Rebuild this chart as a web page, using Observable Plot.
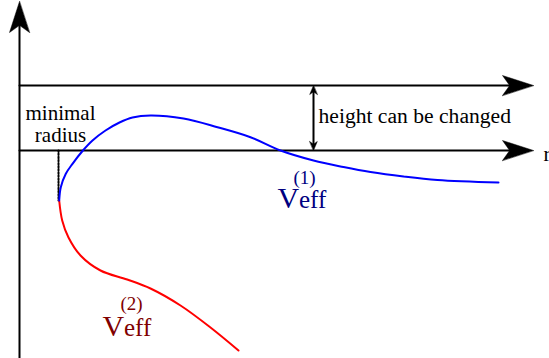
<!DOCTYPE html>
<html>
<head>
<meta charset="utf-8">
<script src="https://cdn.jsdelivr.net/npm/d3@7"></script>
<script src="https://cdn.jsdelivr.net/npm/@observablehq/plot@0.6"></script>
<style>
  html, body { margin: 0; padding: 0; background: #fff; }
  #chart svg { display: block; }
</style>
</head>
<body>
<div id="chart"></div>
<script>
// Effective potential sketch: r (horizontal) vs V (vertical)
const blueR = [39.7, 41.3, 46.3, 53, 63, 73, 86, 100, 113, 131, 164, 198, 231, 261, 294, 324, 351, 384, 418, 479];
const blueV = [-50, -36.7, -23.3, -13.3, -0.5, 10, 20, 28, 33, 35, 32, 23.3, 13.3, 0, -10, -16.5, -21.5, -26, -29.5, -32];
const redR = [39.7, 42.7, 49, 61, 81, 107.7, 131, 161, 191, 219];
const redV = [-50, -70, -87, -105, -120, -129, -138, -155, -177, -200];

const rMin = -19, rMax = 530;
const vMin = -208, vMax = 150;
const axisTipR = 514;      // end of horizontal axes
const axisTipV = 149;      // end of vertical axis
const shiftedLevel = 65;   // height of the shifted zero line
const minimalRadius = 39;
const minimalV = -50;
const heightArrowR = 294;

const labels = [
  {r: 41, v: 31, text: "minimal", anchor: "middle", size: 21, color: "#000"},
  {r: 41, v: 9, text: "radius", anchor: "middle", size: 21, color: "#000"},
  {r: 299, v: 28, text: "height can be changed", anchor: "start", size: 21.6, color: "#000"},
  {r: 524, v: -10, text: "r", anchor: "start", size: 21, color: "#000"},
  {r: 258, v: -57, text: "V", anchor: "start", size: 30, color: "#000080"},
  {r: 279.5, v: -57, text: "eff", anchor: "start", size: 25, color: "#000080"},
  {r: 274, v: -33, text: "(1)", anchor: "start", size: 19, color: "#000080"},
  {r: 83, v: -185, text: "V", anchor: "start", size: 30, color: "#800000"},
  {r: 104.5, v: -185, text: "eff", anchor: "start", size: 25, color: "#800000"},
  {r: 101, v: -159, text: "(2)", anchor: "start", size: 19, color: "#800000"}
];

const blue = blueR.map((r, i) => ({r, v: blueV[i]}));
const red = redR.map((r, i) => ({r, v: redV[i]}));

// arrowhead polygon: tip, direction (unit), length, half width, notch fraction
function head(id, tr, tv, dr, dv, L, W, notch) {
  const pr = -dv, pv = dr;
  return [
    {id, r: tr, v: tv},
    {id, r: tr - dr * L + pr * W, v: tv - dv * L + pv * W},
    {id, r: tr - dr * L * notch, v: tv - dv * L * notch},
    {id, r: tr - dr * L - pr * W, v: tv - dv * L - pv * W}
  ];
}
const bigL = 31, bigW = 10, bigN = 0.77;
const smallL = 9, smallW = 3.8, smallN = 0.7;
const heads = [
  ...head("vaxis", 0, axisTipV, 0, 1, bigL, bigW, bigN),
  ...head("top", axisTipR, shiftedLevel, 1, 0, bigL, bigW, bigN),
  ...head("main", axisTipR, 0, 1, 0, bigL, bigW, bigN),
  ...head("hup", heightArrowR, shiftedLevel, 0, 1, smallL, smallW, smallN),
  ...head("hdown", heightArrowR, 0, 0, -1, smallL, smallW, smallN)
];

const shafts = [
  {id: "v", r: 0, v: vMin}, {id: "v", r: 0, v: axisTipV - bigL * bigN},
  {id: "t", r: 0, v: shiftedLevel}, {id: "t", r: axisTipR - bigL * bigN, v: shiftedLevel},
  {id: "m", r: 0, v: 0}, {id: "m", r: axisTipR - bigL * bigN, v: 0},
  {id: "h", r: heightArrowR, v: shiftedLevel - smallL * smallN}, {id: "h", r: heightArrowR, v: smallL * smallN}
];

const font = "'Liberation Serif', 'Times New Roman', serif";

const chart = Plot.plot({
  width: 549,
  height: 358,
  margin: 0,
  x: {domain: [rMin, rMax], axis: null},
  y: {domain: [vMin, vMax], axis: null},
  style: {background: "#fff", fontFamily: font},
  marks: [
    Plot.line(shafts, {x: "r", y: "v", z: "id", stroke: "#000", strokeWidth: 2}),
    Plot.line([{r: minimalRadius, v: 0}, {r: minimalRadius, v: minimalV}],
      {x: "r", y: "v", stroke: "#000", strokeWidth: 2, strokeDasharray: "1.5,1.6"}),
    Plot.line(heads, {x: "r", y: "v", z: "id", fill: "#000", stroke: "#000", strokeWidth: 0.5, curve: "linear-closed"}),
    Plot.line(red, {x: "r", y: "v", stroke: "#ff0000", strokeWidth: 2, curve: "catmull-rom"}),
    Plot.line(blue, {x: "r", y: "v", stroke: "#0000ff", strokeWidth: 2, curve: "catmull-rom"}),
    ...labels.map(d => Plot.text([d], {
      x: "r", y: "v", text: "text", textAnchor: d.anchor, lineAnchor: "bottom",
      fontSize: d.size, fill: d.color, fontFamily: font
    }))
  ]
});
document.getElementById("chart").appendChild(chart);
</script>
</body>
</html>
